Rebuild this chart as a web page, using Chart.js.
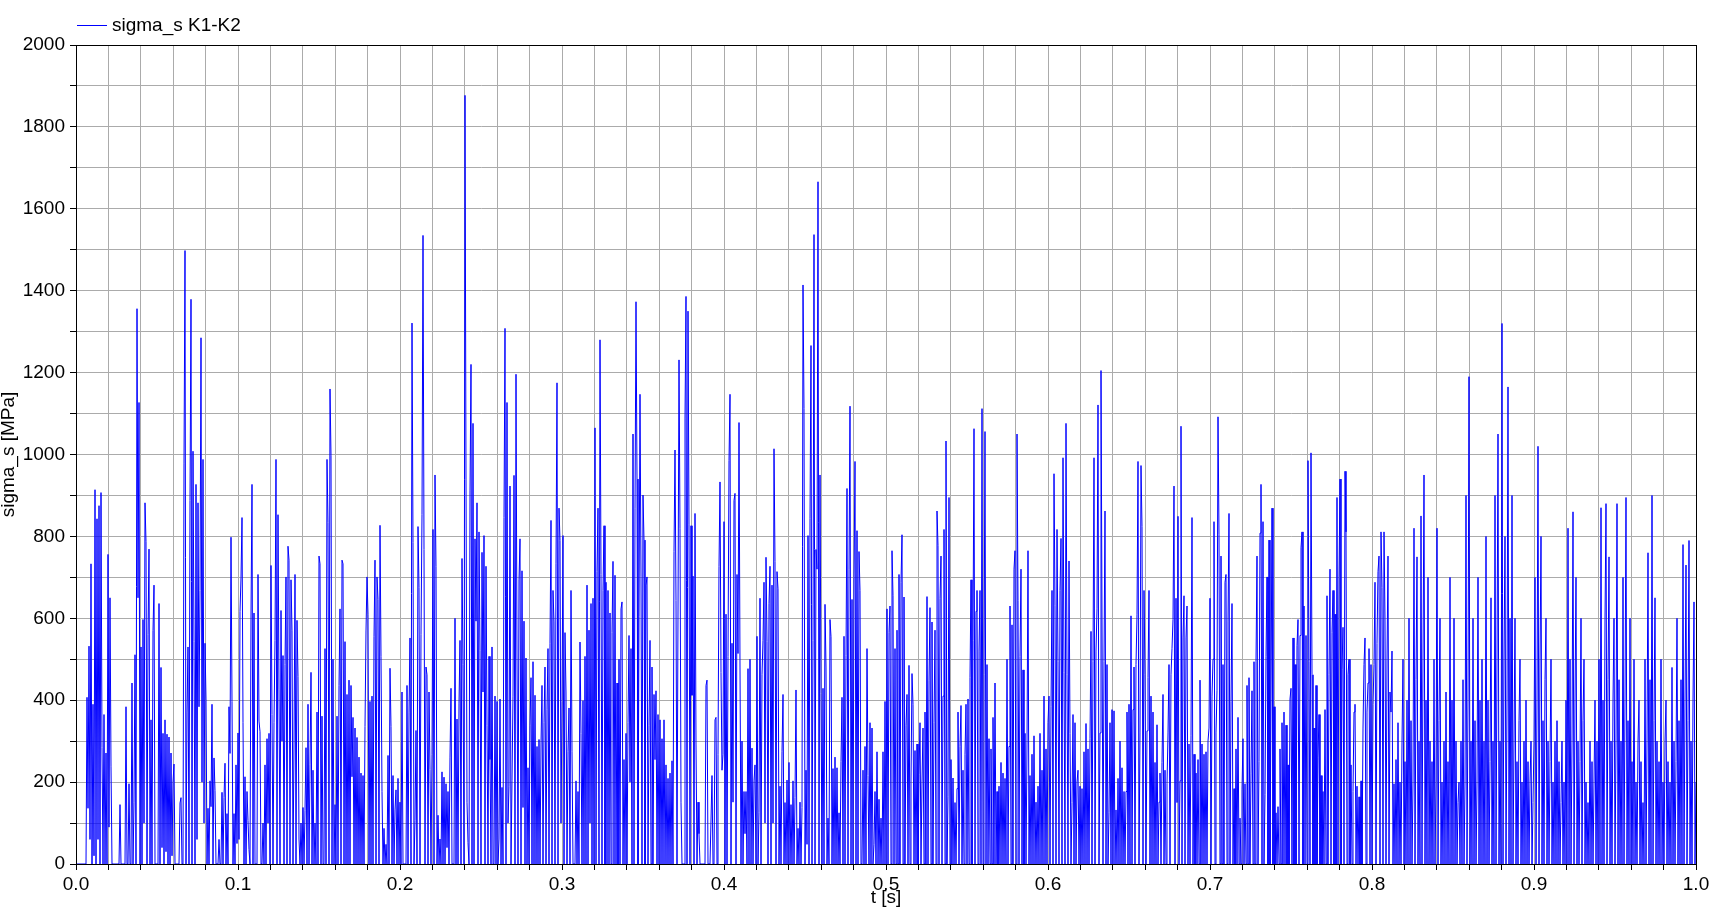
<!DOCTYPE html>
<html>
<head>
<meta charset="utf-8">
<script src="https://cdn.jsdelivr.net/npm/chart.js@4.4.1/dist/chart.umd.min.js"></script>
<style>
html,body{margin:0;padding:0;background:#fff;overflow:hidden}
#wrap{width:1719px;height:914px}
</style>
</head>
<body>
<div id="wrap"><canvas id="c" width="1719" height="914"></canvas></div>
<script>
// ---- data (sigma_s in MPa, one sample per plotted pixel column) ----
const seriesLabel = 'sigma_s K1-K2';
const xTitle = 't [s]';
const yTitle = 'sigma_s [MPa]';
const sampleStep = 1 / 1620;                       // s between samples
const segmentStarts = [0.0, 0.1, 0.2, 0.3, 0.4, 0.5, 0.6, 0.7, 0.8, 0.9];
const xTickLabels = ['0.0','0.1','0.2','0.3','0.4','0.5','0.6','0.7','0.8','0.9','1.0'];
const yTickLabels = [0, 200, 400, 600, 800, 1000, 1200, 1400, 1600, 1800, 2000];

const sig_00 = [
0,0,0,0,0,0,0,0,0,0, 0,407,136,532,60,733,0,390,20,914, 0,843,60,875,0,907,284,0,365,0,
271,0,756,90,650,239,0,0,0,0, 0,0,0,0,145,0,0,0,0,0, 384,0,0,196,0,0,442,0,151,511,
0,1356,650,1127,0,530,0,597,100,882, 787,0,560,769,0,352,0,570,681,0, 0,0,0,636,0,480,40,319,0,352,
30,317,0,310,0,271,20,200,244,0, 0,0,0,0,149,162,0,0,979,1498, 0,371,530,0,888,1379,0,1008,543,0,
927,60,882,384,668,1285,200,988,100,539, 403,0,136,0,203,140,390,0,259,180, 0,0,0,60,0,0,175,0,162,246,
0,123,0,384,270,798,397,0,123,0, 242,50];
const sig_01 = [
320,60,617,699,846,345,0,213,0,177, 106,35,0,608,927,0,613,0,0,0, 707,349,323,0,0,100,0,242,0,306,
100,319,0,729,365,0,345,546,988,0, 853,425,0,619,300,509,0,487,701,0, 776,742,0,694,571,0,293,707,0,595,
458,61,0,100,0,138,0,130,284,0, 390,0,242,468,0,229,0,100,0,371, 0,752,733,0,361,0,0,526,0,988,
834,0,1160,998,0,500,0,145,0,361, 0,436,623,0,742,733,0,543,0,414, 0,449,0,436,213,358,0,332,0,309,
0,261,0,222,0,216,0,336,569,701, 610,0,397,0,410,0,555,742,0,701, 646,0,827,507,177,0,87,0,48,0,
265,0,478,336,0,216,0,132,181,0, 209,0];
const sig_02 = [
151,0,420,0,0,0,0,436,0,371, 552,0,1321,785,0,106,326,0,824,675, 0,561,853,1535,768,0,481,462,0,420,
231,0,268,817,0,950,727,0,119,0, 61,0,225,0,212,0,196,40,177,0, 261,429,0,0,0,600,0,354,0,393,
546,0,746,487,0,1877,940,151,52,0, 911,1220,0,1076,0,794,593,882,0,811, 522,0,761,420,802,0,727,339,0,507,
255,0,530,0,0,410,0,397,0,61, 403,0,187,0,846,1308,0,1127,100,190, 923,0,203,410,949,0,1196,503,0,694,
794,0,716,138,593,0,503,0,235,0, 339,455,0,494,0,412,0,287,0,304, 0,293,436,0,345,481,0,378,526,0,
539,839,0,668,591,0,733,1175,0,869, 790,100];
const sig_03 = [
397,802,0,565,420,0,274,381,0,668, 274,0,0,0,203,0,177,0,542,319, 0,399,0,507,0,681,0,571,100,636,
0,649,0,1065,0,714,869,0,1280,707, 0,668,826,0,688,0,668,0,613,0, 565,739,0,705,0,442,0,500,0,623,
640,0,255,0,319,0,345,558,200,526, 0,1050,0,869,1373,940,0,604,1147,703, 0,901,791,0,681,701,0,339,546,0,
481,0,414,255,423,0,365,0,352,0, 306,0,352,0,242,0,209,0,222,0, 252,0,763,1011,643,0,0,1231,820,151,
0,0,0,1089,1386,0,1350,830,0,826, 412,703,0,856,293,0,151,74,0,0, 0,0,0,0,436,449,0,0,0,0,
216,0,0,352,358,0,268,727,933,468, 229,268];
const sig_04 = [
836,0,610,0,507,985,1147,0,539,151, 888,905,0,707,514,1078,481,0,300,0, 177,74,177,0,477,0,500,0,283,0,
203,242,0,556,0,125,649,0,462,546, 688,100,749,543,0,636,727,0,681,100, 1014,739,0,714,672,0,190,0,274,414,
0,150,0,205,0,248,0,145,0,203, 0,162,425,0,87,0,151,0,138,1414, 1112,0,229,48,802,0,843,1266,0,546,
1537,0,768,720,1666,0,950,416,0,429, 0,634,481,0,112,0,597,555,0,233, 0,261,0,235,0,125,0,250,407,0,
556,0,509,917,0,720,1118,0,646,0, 701,983,0,814,0,763,668,0,0,229, 0,287,0,526,216,0,345,0,332,0,
48,177,0,274,0,158,0,112,0,274, 0,397];
const sig_05 = [
0,623,0,565,630,0,765,655,0,526, 0,571,0,707,0,688,804,0,652,0, 339,414,0,485,0,200,465,390,0,277,
0,293,0,219,345,0,200,332,0,371, 0,653,0,449,626,0,591,0,345,571, 0,862,778,0,649,752,0,410,817,0,
1033,0,164,895,0,255,0,210,0,150, 0,184,371,0,287,387,0,229,0,268, 390,0,403,0,455,694,0,546,1063,0,
617,668,0,520,668,0,1112,0,462,1056, 0,487,0,306,0,281,0,358,0,442, 0,177,0,190,0,248,0,222,0,209,
0,500,0,287,630,0,584,0,720,765, 0,1050,643,0,507,720,0,474,0,319, 0,293,765,0,216,0,268,0,313,0,
151,0,190,0,319,0,229,0,410,0, 281,0];
const sig_06 = [
345,410,0,384,668,0,953,632,0,817, 494,0,668,795,0,992,468,0,1076,462, 0,740,319,0,150,365,0,345,0,200,
229,0,190,0,184,0,274,0,343,0, 281,0,306,568,0,494,992,0,520,623, 1121,0,320,1205,600,0,494,862,0,487,
0,125,345,0,377,0,374,0,132,0, 209,0,300,0,235,0,177,0,177,371, 0,390,0,606,0,377,481,0,487,610,
983,0,320,973,824,0,668,462,0,325, 455,668,0,410,0,371,0,248,0,340, 0,151,222,0,248,414,0,229,0,196,
320,487,0,462,526,597,923,0,649,150, 849,0,203,1069,0,552,655,0,552,630, 0,293,0,313,846,0,268,0,222,0,
255,0,449,0,293,0,268,0,274,0, 300,332];
const sig_07 = [
649,0,410,500,836,0,320,423,1092,804, 0,752,0,487,0,688,707,0,591,856, 0,397,636,0,184,0,281,0,358,0,
112,0,181,306,0,196,0,436,0,455, 0,222,423,0,494,0,494,752,0,250, 808,927,0,836,0,170,507,701,0,791,
0,403,869,0,384,0,125,0,140,0, 281,0,345,0,371,0,339,0,242,0, 403,429,0,552,0,487,0,533,597,0,
558,772,811,0,630,0,558,0,985,494, 0,1004,462,0,332,0,436,0,261,365, 0,216,0,177,0,377,0,655,0,462,
720,0,565,668,0,610,0,895,0,701, 940,0,475,578,0,959,811,0,462,500, 0,242,0,177,371,390,0,190,0,164,
0,203,0,332,487,552,0,371,442,526, 0,487];
const sig_08 = [
0,390,487,688,0,539,714,752,0,811, 675,0,811,600,0,500,752,0,420,371, 520,0,196,0,255,0,345,0,
200,0,300,500,0,250,0,400,0,600, 0,350,0,200,820,0,450,750,0,300, 0,850,0,500,950,0,400,0,700,0,
300,0,250,0,500,0,200,820,0,350, 600,0,200,0,300,0,420,0,250,0, 700,0,400,0,600,0,300,0,150,200,
0,300,0,450,0,200,900,0,400,1190, 0,300,0,600,0,350,0,200,700,0, 400,0,500,0,300,0,800,0,400,0,
250,650,0,300,0,900,0,500,1050,0, 300,0,1320,0,500,800,0,400,1165,0, 600,0,900,0,300,600,0,250,0,350,
500,0,200,0,300,0,400,0,250,0, 200,300,0,150];
const sig_09 = [
300,700,0,400,1020,0,500,800,0,350, 0,450,600,0,300,0,250,500,0,200, 0,300,0,350,0,250,0,150,300,0,
200,0,400,0,820,0,500,0,300,860, 0,400,700,0,300,0,250,600,0,350, 500,0,200,0,150,0,300,0,250,0,
200,400,0,300,0,500,0,870,0,400, 0,600,880,0,450,750,0,300,0,400, 600,0,300,880,0,450,0,300,0,700,
0,400,895,0,350,0,600,0,250,0, 500,0,200,0,300,400,0,250,0,150, 0,500,0,300,760,0,450,0,900,0,
350,650,0,300,0,250,0,500,0,200, 0,300,400,0,250,0,200,0,480,0, 300,0,250,600,0,350,0,450,0,780,
0,400,730,0,350,790,0,300,0,400, 640,0,200];

const segments = [sig_00, sig_01, sig_02, sig_03, sig_04, sig_05, sig_06, sig_07, sig_08, sig_09];
const points = [];
segments.forEach((seg, s) => {
  seg.forEach((v, k) => points.push({ x: segmentStarts[s] + k * sampleStep, y: v }));
});

// ---- style ----
const FONT = '"Liberation Sans", Arial, Helvetica, sans-serif';
const FONT_SIZE = 19;
const GRID = '#ababab';
const LINE = '#0000ff';

const frameAndLegend = {
  id: 'frameAndLegend',
  afterDraw(chart) {
    const { ctx, chartArea: a } = chart;
    const al = v => Math.round(v - 0.5) + 0.5;
    ctx.save();
    ctx.strokeStyle = '#000';
    ctx.lineWidth = 1;
    ctx.strokeRect(al(a.left), al(a.top), Math.round(a.right - a.left), Math.round(a.bottom - a.top));
    // legend
    const ds = chart.data.datasets[0];
    ctx.strokeStyle = ds.borderColor;
    ctx.beginPath();
    ctx.moveTo(a.left + 1, 25.5);
    ctx.lineTo(a.left + 31, 25.5);
    ctx.stroke();
    ctx.fillStyle = '#000';
    ctx.font = FONT_SIZE + 'px ' + FONT;
    ctx.textBaseline = 'middle';
    ctx.textAlign = 'left';
    ctx.fillText(ds.label, a.left + 36, 26);
    ctx.restore();
  }
};

new Chart(document.getElementById('c'), {
  type: 'line',
  data: {
    datasets: [{
      label: seriesLabel,
      data: points,
      borderColor: LINE,
      borderWidth: 1,
      pointRadius: 0,
      pointHoverRadius: 0,
      fill: false,
      tension: 0
    }]
  },
  options: {
    responsive: false,
    animation: false,
    devicePixelRatio: 1,
    parsing: false,
    normalized: true,
    events: [],
    layout: { padding: { left: 0, right: 23, top: 45, bottom: 0 } },
    plugins: { legend: { display: false }, tooltip: { enabled: false } },
    scales: {
      x: {
        type: 'linear', min: 0, max: 1,
        afterFit: s => { s.height = 50; },
        ticks: {
          stepSize: 0.02, autoSkip: false, maxRotation: 0, minRotation: 0, padding: 3,
          color: '#000', font: { family: FONT, size: FONT_SIZE },
          callback: v => { const k = Math.round(v * 50); return k % 5 === 0 ? xTickLabels[k / 5] : ''; }
        },
        grid: { color: GRID, lineWidth: 1, tickLength: 6, tickColor: '#000', drawTicks: true },
        border: { color: '#000', width: 1 },
        title: { display: true, text: xTitle, color: '#000', font: { family: FONT, size: FONT_SIZE }, padding: { top: 0, bottom: 5 } }
      },
      y: {
        type: 'linear', min: 0, max: 2000,
        afterFit: s => { s.width = 76; },
        ticks: {
          stepSize: 100, autoSkip: false, padding: 5,
          color: '#000', font: { family: FONT, size: FONT_SIZE },
          callback: v => yTickLabels.includes(v) ? String(v) : ''
        },
        grid: { color: GRID, lineWidth: 1, tickLength: 6, tickColor: '#000', drawTicks: true },
        border: { color: '#000', width: 1 },
        title: { display: true, text: yTitle, color: '#000', font: { family: FONT, size: FONT_SIZE, lineHeight: 0.9 }, padding: { top: 0, bottom: 0 } }
      }
    }
  },
  plugins: [frameAndLegend]
});
</script>
</body>
</html>
